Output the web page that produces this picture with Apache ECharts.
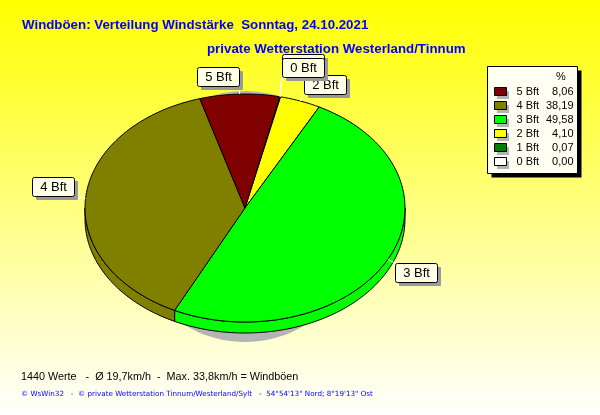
<!DOCTYPE html>
<html><head><meta charset="utf-8">
<style>html,body{margin:0;padding:0;background:#fff}#c{width:600px;height:415px}</style>
<script src="https://cdn.jsdelivr.net/npm/echarts@6/dist/echarts.min.js"></script>
</head><body><div id="c"></div>
<script>
const categories = ['0 Bft','1 Bft','2 Bft','3 Bft','4 Bft','5 Bft'];
const percents = [0.00,0.07,4.10,49.58,38.19,8.06];
const colors = ['#ffffff','#008000','#ffff00','#00ff00','#808000','#800000'];
const legendOrder = ['5 Bft','4 Bft','3 Bft','2 Bft','1 Bft','0 Bft'];

// layout
const CX=245, CY=208, RX=160, RY=114, DEPTH=11, START=12.6;
const BOX_W=42, BOX_H=19;
const boxes = {'0 Bft':[282,58],'1 Bft':[282,54],'2 Bft':[304,75],'3 Bft':[395,263],'4 Bft':[32,177],'5 Bft':[197,67]};
const boxLayer = {'0 Bft':16,'1 Bft':10,'2 Bft':12,'3 Bft':12,'4 Bft':12,'5 Bft':12};

const rad=d=>d*Math.PI/180;
const pt=(t,dy)=>[CX+RX*Math.sin(rad(t)),CY-RY*Math.cos(rad(t))+(dy||0)];
function arc(a,b,dy){const n=Math.max(2,Math.ceil(Math.abs(b-a)/1.5));const o=[];for(let i=0;i<=n;i++)o.push(pt(a+(b-a)*i/n,dy));return o;}

let cum=START;
const spans=percents.map(p=>{const s=cum;cum+=p*3.6;return [s,cum];});

function sideRanges(a,b){
  const out=[];
  [[90,270],[450,630]].forEach(([l,h])=>{const s=Math.max(a,l),e=Math.min(b,h);if(e>s)out.push([s,e]);});
  return out;
}
function makeRender(name,color){
  return function(params,api){
    const a=api.value(0),b=api.value(1);
    const kids=[];
    const line={fill:color,stroke:'#000',lineWidth:1};
    sideRanges(a,b).forEach(([s,e])=>{
      const pts=arc(s,e,0).concat(arc(e,s,DEPTH));
      kids.push({type:'polygon',z2:1,shape:{points:pts},style:line});
    });
    kids.push({type:'polygon',z2:2,shape:{points:[[CX,CY]].concat(arc(a,b,0))},style:line});
    const rim=pt((a+b)/2);
    const [bx,by]=boxes[name];
    const tx=Math.min(bx+BOX_W,Math.max(bx,rim[0])),ty=Math.min(by+BOX_H,Math.max(by,rim[1]));
    kids.push({type:'line',z2:3,shape:{x1:rim[0],y1:rim[1],x2:tx,y2:ty},style:{stroke:'#fff',lineWidth:1}});
    const order=boxLayer[name];
    kids.push({type:'rect',z2:order,shape:{x:bx+4,y:by+4,width:BOX_W,height:BOX_H,r:1},style:{fill:'#9a9a9a'}});
    kids.push({type:'rect',z2:order+1,shape:{x:bx+.5,y:by+.5,width:BOX_W,height:BOX_H,r:2},style:{fill:'#ffffe6',stroke:'#000',lineWidth:1}});
    kids.push({type:'text',z2:order+2,style:{x:bx+BOX_W/2+.5,y:by+BOX_H/2+1,text:name,align:'center',verticalAlign:'middle',fill:'#000',font:'13px "Liberation Sans",Arial,sans-serif'}});
    return {type:'group',children:kids};
  };
}

const chart=echarts.init(document.getElementById('c'),null,{renderer:'canvas'});
const F='"Liberation Sans",Arial,sans-serif';
const LX=487.5, LY=66.5, LW=90, LH=107;
chart.setOption({
  animation:false,
  backgroundColor:{type:'linear',x:0,y:0,x2:0,y2:1,colorStops:[{offset:0,color:'#ffff00'},{offset:1,color:'#ffffff'}]},
  title:[
    {text:'Windböen: Verteilung Windstärke  Sonntag, 24.10.2021',left:22,top:17,padding:0,textStyle:{fontFamily:F,fontSize:13.3,fontWeight:'bold',color:'#0000ff',lineHeight:16}},
    {text:'private Wetterstation Westerland/Tinnum',left:207,top:41,padding:0,textStyle:{fontFamily:F,fontSize:13.3,fontWeight:'bold',color:'#0000ff',lineHeight:16}},
    {text:'1440 Werte   -  Ø 19,7km/h  -  Max. 33,8km/h = Windböen',left:21,top:370,padding:0,textStyle:{fontFamily:F,fontSize:10.8,fontWeight:'normal',color:'#000',lineHeight:14}},
    {text:'© WsWin32   -  © private Wetterstation Tinnum/Westerland/Sylt   -  54°54\'13" Nord; 8°19\'13" Ost',left:21,top:389,padding:0,textStyle:{fontFamily:'"DejaVu Sans",sans-serif',fontSize:7.2,fontWeight:'normal',color:'#0000ff',lineHeight:10}}
  ],
  legend:{
    orient:'vertical',left:487,top:66,padding:[20,5,5,7],itemGap:3,itemWidth:12,itemHeight:8,z:20,
    selectedMode:false,
    data:legendOrder.map(n=>({name:n,icon:'rect'})),
    itemStyle:{borderColor:'#000',borderWidth:1},
    formatter:n=>{const v=percents[categories.indexOf(n)].toFixed(2).replace('.',',');return `{n|${n}}{v|${v}}`;},
    textStyle:{rich:{
      n:{fontFamily:F,fontSize:11,color:'#000',width:27,padding:[0,0,0,5]},
      v:{fontFamily:F,fontSize:11,color:'#000',width:30,align:'right'}
    }}
  },
  graphic:[
    {type:'ellipse',z:0,shape:{cx:CX,cy:216.5,rx:120,ry:125.5},style:{fill:'#b4b4b4'}},
    {type:'rect',z:10,shape:{x:LX+4,y:LY+4,width:LW,height:LH},style:{fill:'#000'}},
    {type:'rect',z:10,shape:{x:LX,y:LY,width:LW,height:LH},style:{fill:'#fffff2',stroke:'#000',lineWidth:1}},
    {type:'text',z:11,style:{x:556,y:71,text:'%',fill:'#000',font:'11px '+F}}
  ].concat(legendOrder.map((n,i)=>({type:'rect',z:11,shape:{x:497,y:91+14*i,width:12,height:8},style:{fill:'#b4b4b4'}}))),
  series:categories.map((name,i)=>({
    type:'custom',name,coordinateSystem:'none',z:2,
    itemStyle:{color:colors[i]},
    renderItem:makeRender(name,colors[i]),
    data:[spans[i]]
  }))
});
</script></body></html>
